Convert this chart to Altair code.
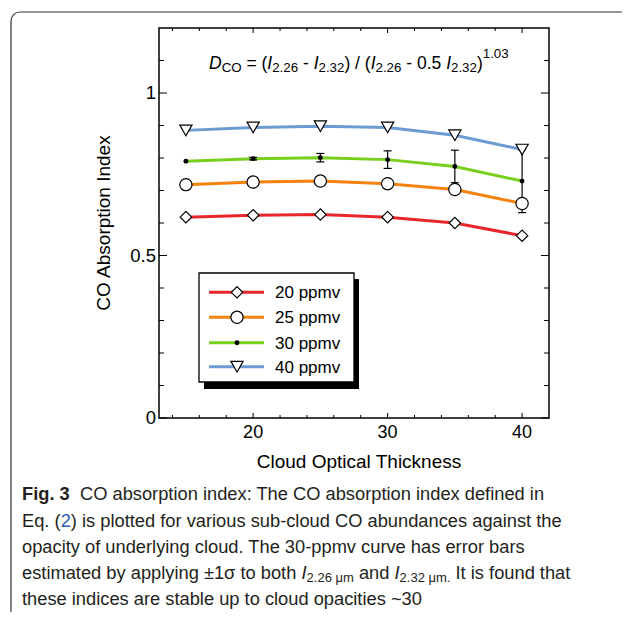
import altair as alt
import pandas as pd

# ---------------- data ----------------
thickness = [15, 20, 25, 30, 35, 40]
ppmv20 = [0.618, 0.624, 0.626, 0.618, 0.600, 0.561]
ppmv25 = [0.718, 0.726, 0.729, 0.721, 0.703, 0.660]
ppmv30 = [0.790, 0.798, 0.801, 0.795, 0.774, 0.729]
ppmv40 = [0.885, 0.894, 0.898, 0.894, 0.870, 0.826]
err30 = [0.0, 0.004, 0.013, 0.027, 0.050, 0.097]
series_names = ["20 ppmv", "25 ppmv", "30 ppmv", "40 ppmv"]
series_colors = ["#e8262b", "#f5820d", "#78cf1e", "#6c9bd1"]
x_major = [20, 30, 40]
x_minor = [14, 16, 18, 22, 24, 26, 28, 32, 34, 36, 38]
y_major = [0, 0.5, 1]
y_major_labels = ["0", "0.5", "1"]
y_minor = [0.1, 0.2, 0.3, 0.4, 0.6, 0.7, 0.8, 0.9, 1.1]
x_title = "Cloud Optical Thickness"
y_title = "CO Absorption Index"

W, H = 390, 390
FONT = "Liberation Sans"

xs = alt.Scale(domain=[13, 42], nice=False, zero=False)
ys = alt.Scale(domain=[0, 1.2], nice=False, zero=False)


def X(f):
    return alt.X(f"{f}:Q", scale=xs, axis=None)


def Y(f):
    return alt.Y(f"{f}:Q", scale=ys, axis=None)


all_vals = [ppmv20, ppmv25, ppmv30, ppmv40]
long = pd.DataFrame(
    [
        {"thickness": t, "value": v, "series": s}
        for s, vals in zip(series_names, all_vals)
        for t, v in zip(thickness, vals)
    ]
)
err_df = pd.DataFrame(
    [
        {"thickness": t, "lo": v - e, "hi": v + e}
        for t, v, e in zip(thickness, ppmv30, err30)
        if e > 0
    ]
)
one = pd.DataFrame({"k": [0]})

layers = []

# outer rounded card
layers.append(
    alt.Chart(one)
    .mark_rect(fill=None, stroke="#333333", strokeWidth=1.2, cornerRadius=9)
    .encode(x=alt.value(-148), x2=alt.value(700), y=alt.value(-16), y2=alt.value(700))
)

# lines
layers.append(
    alt.Chart(long)
    .mark_line(strokeWidth=3)
    .encode(
        x=X("thickness"),
        y=Y("value"),
        color=alt.Color(
            "series:N",
            scale=alt.Scale(domain=series_names, range=series_colors),
            legend=None,
        ),
    )
)

# error bars
layers.append(
    alt.Chart(err_df)
    .mark_rule(color="black", strokeWidth=1.2)
    .encode(x=X("thickness"), y=Y("lo"), y2="hi:Q")
)
for f in ["lo", "hi"]:
    layers.append(
        alt.Chart(err_df)
        .mark_tick(orient="horizontal", size=8, thickness=1.2, color="black", opacity=1)
        .encode(x=X("thickness"), y=Y(f))
    )

marker_specs = {
    "20 ppmv": dict(shape="diamond", size=130, filled=True, color="white", stroke="black", strokeWidth=1.2),
    "25 ppmv": dict(shape="circle", size=150, filled=True, color="white", stroke="black", strokeWidth=1.2),
    "30 ppmv": dict(shape="circle", size=24, filled=True, color="black", strokeWidth=0),
    "40 ppmv": dict(shape="triangle-down", size=150, filled=True, color="white", stroke="black", strokeWidth=1.2),
}
for name, vals in zip(series_names, all_vals):
    d = pd.DataFrame({"thickness": thickness, "value": vals})
    layers.append(
        alt.Chart(d)
        .mark_point(opacity=1, **marker_specs[name])
        .encode(x=X("thickness"), y=Y("value"))
    )

# ticks (inward, all four sides)
xmaj = pd.DataFrame({"v": x_major})
xmin = pd.DataFrame({"v": x_minor})
ymaj = pd.DataFrame({"v": y_major, "lab": y_major_labels})
ymin = pd.DataFrame({"v": y_minor})
for d, ln in [(xmaj, 5), (xmin, 3)]:
    layers.append(alt.Chart(d).mark_rule(color="black", strokeWidth=1).encode(
        x=X("v"), y=alt.value(H), y2=alt.value(H - ln)))
    layers.append(alt.Chart(d).mark_rule(color="black", strokeWidth=1).encode(
        x=X("v"), y=alt.value(0), y2=alt.value(ln)))
for d, ln in [(ymaj, 8), (ymin, 5)]:
    layers.append(alt.Chart(d).mark_rule(color="black", strokeWidth=1).encode(
        y=Y("v"), x=alt.value(0), x2=alt.value(ln)))
    layers.append(alt.Chart(d).mark_rule(color="black", strokeWidth=1).encode(
        y=Y("v"), x=alt.value(W), x2=alt.value(W - ln)))

# tick labels
layers.append(
    alt.Chart(xmaj)
    .mark_text(font=FONT, fontSize=18, align="center", baseline="alphabetic", color="black")
    .encode(x=X("v"), y=alt.value(409.5), text="v:Q")
)
layers.append(
    alt.Chart(ymaj)
    .mark_text(font=FONT, fontSize=18.5, align="right", baseline="middle", color="black")
    .encode(y=Y("v"), x=alt.value(-3), text="lab:N")
)

# axis titles
layers.append(
    alt.Chart(one)
    .mark_text(font=FONT, fontSize=19, align="center", baseline="middle", color="black", text=x_title)
    .encode(x=alt.value(200), y=alt.value(434))
)
layers.append(
    alt.Chart(one)
    .mark_text(font=FONT, fontSize=19, align="center", baseline="middle", angle=270, color="black", text=y_title)
    .encode(x=alt.value(-55), y=alt.value(195))
)

# legend box with shadow
layers.append(alt.Chart(one).mark_rect(fill="black", strokeWidth=0).encode(
    x=alt.value(45), x2=alt.value(200), y=alt.value(251), y2=alt.value(361)))
layers.append(alt.Chart(one).mark_rect(fill="white", stroke="black", strokeWidth=1.3).encode(
    x=alt.value(40), x2=alt.value(195), y=alt.value(245), y2=alt.value(354)))
row_y = [264.3, 289.3, 314.7, 338.7]
for name, col, ry in zip(series_names, series_colors, row_y):
    layers.append(alt.Chart(one).mark_rule(color=col, strokeWidth=3).encode(
        x=alt.value(50), x2=alt.value(105), y=alt.value(ry)))
    layers.append(alt.Chart(one).mark_point(opacity=1, **marker_specs[name]).encode(
        x=alt.value(78), y=alt.value(ry)))
    layers.append(alt.Chart(one).mark_text(font=FONT, fontSize=17, align="left", baseline="middle",
                                           color="black", text=name).encode(
        x=alt.value(116), y=alt.value(ry + 1)))

# ---------- equation with sub/superscripts ----------
AW = {
    " ": .278, ".": .278, ",": .278, ":": .278, "(": .333, ")": .333, "-": .333, "=": .584,
    "/": .278, "±": .584, "~": .584, "σ": .57, "μ": .576,
    "a": .556, "b": .556, "c": .5, "d": .556, "e": .556, "f": .278, "g": .556, "h": .556,
    "i": .222, "j": .222, "k": .5, "l": .222, "m": .833, "n": .556, "o": .556, "p": .556,
    "q": .556, "r": .333, "s": .5, "t": .278, "u": .556, "v": .5, "w": .722, "x": .5,
    "y": .5, "z": .5,
    "A": .667, "B": .667, "C": .722, "D": .722, "E": .667, "F": .611, "G": .778, "H": .722,
    "I": .278, "J": .5, "K": .667, "L": .556, "M": .833, "N": .722, "O": .778, "P": .667,
    "Q": .778, "R": .722, "S": .667, "T": .611, "U": .722, "V": .667, "W": .944, "X": .667,
    "Y": .667, "Z": .611,
}
BW = {"F": .611, "i": .278, "g": .611, ".": .278, " ": .278, "3": .556}


def width(s, size, bold=False):
    tab = BW if bold else AW
    return sum(tab.get(c, .556) for c in s) * size


def run_text(pieces, x0, base_y, font, color="black"):
    out = []
    x = x0
    for p in pieces:
        txt, size, style, weight, dy, col = p
        bold = weight == "bold"
        lead = len(txt) - len(txt.lstrip(" "))
        shown = txt.strip(" ")
        if shown:
            out.append(
                alt.Chart(one)
                .mark_text(font=font, fontSize=size, fontStyle=style, fontWeight=weight,
                           align="left", baseline="alphabetic", color=col or color, text=shown)
                .encode(x=alt.value(x + width(" " * lead, size, bold)), y=alt.value(base_y + dy))
            )
        x += width(txt, size, bold=bold)
    return out


FM, FS = 17.5, 13.3
eq = [
    ("D", FM, "italic", "normal", 0, None),
    ("CO", FS, "normal", "normal", 3, None),
    (" = (", FM, "normal", "normal", 0, None),
    ("I", FM, "italic", "normal", 0, None),
    ("2.26", FS, "normal", "normal", 3, None),
    (" - ", FM, "normal", "normal", 0, None),
    ("I", FM, "italic", "normal", 0, None),
    ("2.32", FS, "normal", "normal", 3, None),
    (") / (", FM, "normal", "normal", 0, None),
    ("I", FM, "italic", "normal", 0, None),
    ("2.26", FS, "normal", "normal", 3, None),
    (" - 0.5 ", FM, "normal", "normal", 0, None),
    ("I", FM, "italic", "normal", 0, None),
    ("2.32", FS, "normal", "normal", 3, None),
    (")", FM, "normal", "normal", 0, None),
    ("1.03", FS, "normal", "normal", -11, None),
]
layers += run_text(eq, 50, 41.3, FONT)

# ---------- caption ----------
CF, CS = 18.3, 13
CCOL = "#231f20"
LX = -137
cap_base = [472, 499, 525, 551, 577]
cap_lines = [
    [("Fig. 3", CF, "normal", "bold", 0, None),
     ("  CO absorption index: The CO absorption index defined in", CF, "normal", "normal", 0, None)],
    [("Eq. (", CF, "normal", "normal", 0, None),
     ("2", CF, "normal", "normal", 0, "#2a5db0"),
     (") is plotted for various sub-cloud CO abundances against the", CF, "normal", "normal", 0, None)],
    [("opacity of underlying cloud. The 30-ppmv curve has error bars", CF, "normal", "normal", 0, None)],
    [("estimated by applying ±1σ to both ", CF, "normal", "normal", 0, None),
     ("I", CF, "italic", "normal", 0, None),
     ("2.26 μm", CS, "normal", "normal", 3, None),
     (" and ", CF, "normal", "normal", 0, None),
     ("I", CF, "italic", "normal", 0, None),
     ("2.32 μm.", CS, "normal", "normal", 3, None),
     (" It is found that", CF, "normal", "normal", 0, None)],
    [("these indices are stable up to cloud opacities ~30", CF, "normal", "normal", 0, None)],
]
for pieces, by in zip(cap_lines, cap_base):
    layers += run_text(pieces, LX, by, FONT, color=CCOL)

chart = (
    alt.layer(*layers)
    .properties(
        width=W,
        height=H,
        padding={"left": 151, "top": 20, "right": 73, "bottom": 194},
        autosize=alt.AutoSizeParams(type="none"),
    )
    .configure_view(stroke="black", strokeWidth=1.5)
)

chart.save("out.html", embed_options={"renderer": "svg", "actions": False})
